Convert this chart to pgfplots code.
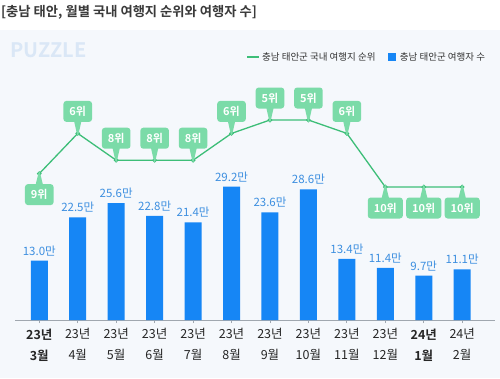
\documentclass[border=0pt]{standalone}
\usepackage{fontspec}
\setmainfont{Noto Sans CJK KR}[BoldFont={Noto Sans CJK KR Bold}]
\usepackage{pgfplots}
\pgfplotsset{compat=1.18}
\usetikzlibrary{shapes.callouts}
\definecolor{barblue}{HTML}{1686F5}
\definecolor{lblblue}{HTML}{3D8FE0}
\definecolor{rankgreen}{HTML}{3DBE78}
\definecolor{callfill}{HTML}{7BDBA8}
\definecolor{panel}{HTML}{F5F8FC}
\definecolor{titlegray}{HTML}{3A3A3A}
\definecolor{wm}{HTML}{DAE7F6}
\definecolor{axisgray}{HTML}{A0A7AF}
\tikzset{
  callbase/.style={rectangle callout, fill=callfill, text=white,
    font=\fontsize{11}{12}\selectfont\bfseries, inner xsep=6pt, inner ysep=5pt,
    minimum height=21pt, minimum width=28pt, rounded corners=3pt, anchor=center, callout pointer width=7pt},
  callup/.style={callbase, yshift=22pt, callout relative pointer={(canvas cs:x=0pt,y=-15.5pt)}},
  calldown/.style={callbase, yshift=-21pt, callout relative pointer={(canvas cs:x=0pt,y=14.5pt)}},
}
\begin{document}
\begin{tikzpicture}
\useasboundingbox (0,0) rectangle (500pt,378pt);
\fill[white] (0,0) rectangle (500pt,378pt);
\fill[panel] (0,0) rectangle (500pt,348pt);
\node[anchor=west, inner sep=0pt, font=\fontsize{13.3}{15}\selectfont\bfseries, text=titlegray] at (1pt,366pt) {[충남 태안, 월별 국내 여행지 순위와 여행자 수]};
\node[anchor=west, inner sep=0pt, font=\fontsize{20}{22}\selectfont\bfseries, text=wm] at (10pt,328pt) {PUZZLE};

\begin{axis}[at={(15pt,58pt)}, anchor=south west, scale only axis,
  width=480pt, height=220pt,
  xmin=-0.632, xmax=11.853, ymin=0, ymax=48.2,
  axis x line*=bottom, axis y line=none, clip=false,
  ybar, bar width=17pt,
  xtick={0,...,11},
  xticklabels={{\textbf{23년}\\\textbf{3월}},{23년\\4월},{23년\\5월},{23년\\6월},{23년\\7월},{23년\\8월},{23년\\9월},{23년\\10월},{23년\\11월},{23년\\12월},{\textbf{24년}\\\textbf{1월}},{24년\\2월}},
  xticklabel style={align=center, font=\fontsize{12.5}{21}\selectfont, text=black!85, yshift=-2pt},
  tick align=outside, major tick length=3pt,
  xtick style={axisgray, line width=0.8pt},
  x axis line style={axisgray, line width=0.8pt, -},
  ytick=\empty,
]
\addplot[fill=barblue, draw=none, nodes near coords, point meta=explicit symbolic,
  every node near coord/.append style={anchor=center, yshift=10pt, text=lblblue, font=\fontsize{11.5}{13}\selectfont}]
  coordinates {(0,13.0)[13.0만] (1,22.5)[22.5만] (2,25.6)[25.6만] (3,22.8)[22.8만] (4,21.4)[21.4만] (5,29.2)[29.2만] (6,23.6)[23.6만] (7,28.6)[28.6만] (8,13.4)[13.4만] (9,11.4)[11.4만] (10,9.7)[9.7만] (11,11.1)[11.1만]};
\end{axis}

\begin{axis}[at={(15pt,58pt)}, anchor=south west, scale only axis,
  width=480pt, height=220pt,
  xmin=-0.632, xmax=11.853, ymin=3.507, ymax=19.925, y dir=reverse,
  hide axis, clip=false,
  legend style={at={(0.99,1.195)}, anchor=east, draw=none, fill=none,
    font=\fontsize{9.5}{11}\selectfont, text=black!80, legend columns=2,
    /tikz/every even column/.append style={column sep=10pt}},
  legend cell align=left,
]
\addlegendimage{legend image code/.code={\draw[rankgreen, line width=2pt] (0pt,0pt) -- (12pt,0pt);}}
\addlegendentry{충남 태안군 국내 여행지 순위}
\addlegendimage{legend image code/.code={\fill[barblue] (0pt,-3.5pt) rectangle (7pt,3.5pt);}}
\addlegendentry{\hspace{3pt}충남 태안군 여행자 수}
\addplot[rankgreen, line width=1.3pt, mark=*, mark size=1.6pt, forget plot]
  coordinates {(0,9) (1,6) (2,8) (3,8) (4,8) (5,6) (6,5) (7,5) (8,6) (9,10) (10,10) (11,10)};
\addplot[draw=none, forget plot, nodes near coords, point meta=explicit symbolic,
  every node near coord/.style={callup}]
  coordinates {(1,6)[6위] (2,8)[8위] (3,8)[8위] (4,8)[8위] (5,6)[6위] (6,5)[5위] (7,5)[5위] (8,6)[6위]};
\addplot[draw=none, forget plot, nodes near coords, point meta=explicit symbolic,
  every node near coord/.style={calldown}]
  coordinates {(0,9)[9위] (9,10)[10위] (10,10)[10위] (11,10)[10위]};
\end{axis}
\end{tikzpicture}
\end{document}
